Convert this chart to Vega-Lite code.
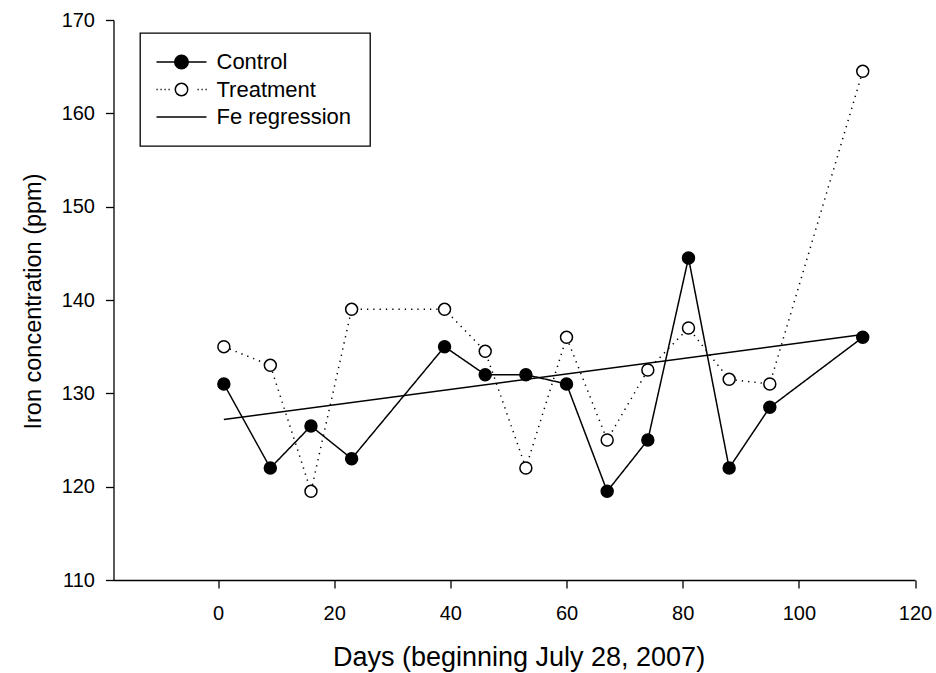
{
  "$schema": "https://vega.github.io/schema/vega-lite/v6.json",
  "autosize": {"type": "none"},
  "padding": {"left": 113.5, "top": 20, "right": 21, "bottom": 93},
  "width": 801.5,
  "height": 560,
  "background": "white",
  "config": {
    "view": {"stroke": null},
    "font": "Liberation Sans",
    "axis": {
      "domainColor": "black", "domainWidth": 1.3,
      "tickColor": "black", "tickWidth": 1.3, "tickSize": 8,
      "labelFont": "Liberation Sans", "labelFontSize": 20, "labelColor": "black",
      "titleFont": "Liberation Sans", "titleFontSize": 27, "titleColor": "black", "titleFontWeight": "normal",
      "grid": false, "labelFlush": false, "labelOverlap": false
    }
  },
  "datasets": {
    "points": [
      {"day": 1, "iron": 131, "series": "Control"},
      {"day": 9, "iron": 122, "series": "Control"},
      {"day": 16, "iron": 126.5, "series": "Control"},
      {"day": 23, "iron": 123, "series": "Control"},
      {"day": 39, "iron": 135, "series": "Control"},
      {"day": 46, "iron": 132, "series": "Control"},
      {"day": 53, "iron": 132, "series": "Control"},
      {"day": 60, "iron": 131, "series": "Control"},
      {"day": 67, "iron": 119.5, "series": "Control"},
      {"day": 74, "iron": 125, "series": "Control"},
      {"day": 81, "iron": 144.5, "series": "Control"},
      {"day": 88, "iron": 122, "series": "Control"},
      {"day": 95, "iron": 128.5, "series": "Control"},
      {"day": 111, "iron": 136, "series": "Control"},
      {"day": 1, "iron": 135, "series": "Treatment"},
      {"day": 9, "iron": 133, "series": "Treatment"},
      {"day": 16, "iron": 119.5, "series": "Treatment"},
      {"day": 23, "iron": 139, "series": "Treatment"},
      {"day": 39, "iron": 139, "series": "Treatment"},
      {"day": 46, "iron": 134.5, "series": "Treatment"},
      {"day": 53, "iron": 122, "series": "Treatment"},
      {"day": 60, "iron": 136, "series": "Treatment"},
      {"day": 67, "iron": 125, "series": "Treatment"},
      {"day": 74, "iron": 132.5, "series": "Treatment"},
      {"day": 81, "iron": 137, "series": "Treatment"},
      {"day": 88, "iron": 131.5, "series": "Treatment"},
      {"day": 95, "iron": 131, "series": "Treatment"},
      {"day": 111, "iron": 164.5, "series": "Treatment"}
    ],
    "regression": [
      {"day": 1, "iron": 127.2, "series": "Fe regression"},
      {"day": 111, "iron": 136.3, "series": "Fe regression"}
    ]
  },
  "encoding": {
    "x": {
      "field": "day", "type": "quantitative",
      "scale": {"domain": [-18, 120], "nice": false, "zero": false},
      "axis": {
        "values": [0, 20, 40, 60, 80, 100, 120],
        "labelPadding": 15,
        "title": "Days (beginning July 28, 2007)",
        "titleX": 405, "titleY": 85, "titleBaseline": "alphabetic"
      }
    },
    "y": {
      "field": "iron", "type": "quantitative",
      "scale": {"domain": [110, 170], "nice": false, "zero": false},
      "axis": {
        "values": [110, 120, 130, 140, 150, 160, 170],
        "labelPadding": 11,
        "title": "Iron concentration (ppm)",
        "titleFontSize": 23.5,
        "titleX": -73.5, "titleY": 281, "titleBaseline": "alphabetic"
      }
    }
  },
  "layer": [
    {
      "data": {"name": "points"},
      "mark": {"type": "line", "color": "black", "strokeWidth": 1.5},
      "encoding": {
        "detail": {"field": "series"},
        "strokeDash": {
          "field": "series", "type": "nominal",
          "scale": {"domain": ["Control", "Treatment"], "range": [[1, 0], [1.3, 5]]},
          "legend": null
        }
      }
    },
    {
      "data": {"name": "regression"},
      "mark": {"type": "line", "color": "black", "strokeWidth": 1.5},
      "encoding": {}
    },
    {
      "data": {"name": "points"},
      "mark": {"type": "point", "shape": "circle", "filled": true, "size": 143, "stroke": "black", "strokeWidth": 1.5, "opacity": 1},
      "encoding": {
        "fill": {
          "field": "series", "type": "nominal",
          "scale": {"domain": ["Control", "Treatment", "Fe regression"], "range": ["black", "white", "white"]},
          "legend": {
            "title": null,
            "orient": "none",
            "legendX": 26.5,
            "legendY": 13,
            "padding": 18,
            "strokeColor": "black",
            "symbolSize": 400,
            "symbolStrokeColor": "black",
            "symbolStrokeWidth": 1.5,
            "symbolOpacity": 1,
            "symbolOffset": 12.5,
            "labelOffset": 24,
            "labelFont": "Liberation Sans",
            "labelFontSize": 22,
            "labelColor": "black",
            "labelLimit": 0,
            "rowPadding": 5.5,
            "encode": {
              "symbols": {
                "update": {
                  "shape": {"signal": "datum.value === 'Control' ? 'M-2.5,0H2.5M0.675,0A0.675,0.675,0,1,1,-0.675,0A0.675,0.675,0,1,1,0.675,0Z' : datum.value === 'Treatment' ? 'M-2.5,0H-2.38M-2.1,0H-1.98M-1.7,0H-1.58M-1.3,0H-1.18M1.6,0H1.72M2.0,0H2.12M2.4,0H2.52M0.62,0A0.62,0.62,0,1,1,-0.62,0A0.62,0.62,0,1,1,0.62,0Z' : 'M-2.5,0H2.5'"}
                }
              },
              "legend": {
                "update": {"strokeWidth": {"value": 1.3}}
              }
            }
          }
        }
      }
    }
  ]
}
